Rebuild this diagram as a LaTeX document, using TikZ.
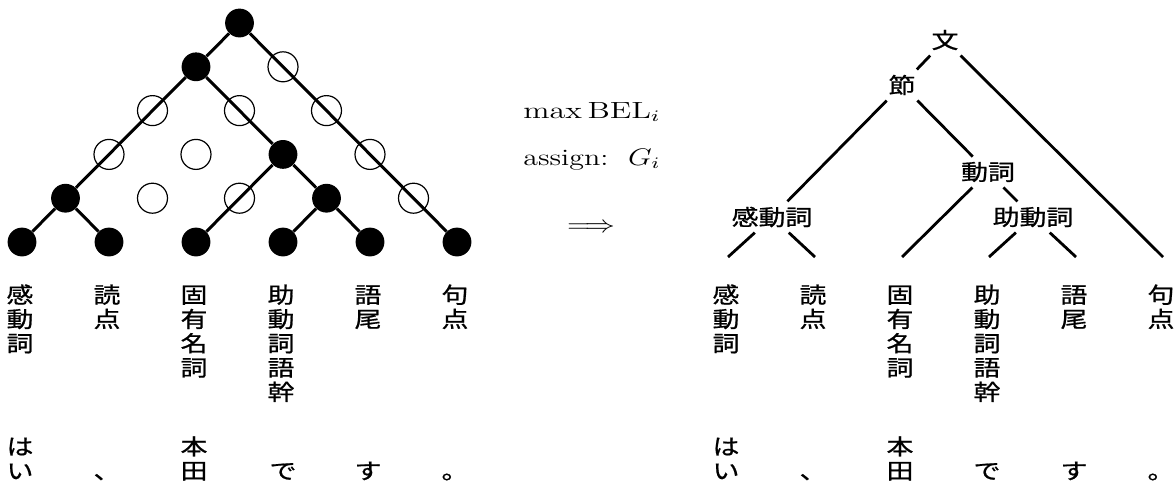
\documentclass[tikz,border=0pt]{standalone}
\usepackage{fontspec}
\usepackage{graphicx}
\newfontfamily\cjk[FakeBold=0.8]{Noto Sans CJK JP}
\newcommand\XS{1.22}
\newcommand\hs[1]{\scalebox{\XS}[1]{#1}}
\newcommand\vtopcol[1]{\vtop{\baselineskip=12.15pt\lineskiplimit=-\maxdimen\halign{\hfil\hs{##}\hfil\cr#1\crcr}}}
\newcommand\vbotcol[1]{\vbox{\baselineskip=12.15pt\lineskiplimit=-\maxdimen\halign{\hfil\hs{##}\hfil\cr#1\crcr}}}
\begin{document}
\begin{tikzpicture}[x=0.5pt,y=-0.5pt,
  bn/.style={circle,fill=black,draw=none,minimum size=14.4pt,inner sep=0pt},
  on/.style={circle,draw=black,line width=0.6pt,minimum size=15pt,inner sep=0pt},
  edge/.style={line width=1.5pt},
  redge/.style={line width=1.4pt},
  tlab/.style={font=\cjk\fontsize{11}{12}\selectfont,inner sep=2.5pt},
  col/.style={font=\cjk\fontsize{11}{12.15}\selectfont,inner sep=0pt,anchor=base},
  mtext/.style={font=\fontsize{11.7}{14}\selectfont,inner sep=0pt}]
\useasboundingbox (0,0) rectangle (1176,483);

% ---------- left tree: chosen (black) nodes ----------
\node[bn] (L0) at (22,242) {};
\node[bn] (L1) at (109,242) {};
\node[bn] (L2) at (196,242) {};
\node[bn] (L3) at (283,242) {};
\node[bn] (L4) at (370,242) {};
\node[bn] (L5) at (457,242) {};
\node[bn] (A01) at (65.5,198.2) {};
\node[bn] (A34) at (326.5,198.2) {};
\node[bn] (A24) at (283,154.4) {};
\node[bn] (A04) at (196,66.8) {};
\node[bn] (A05) at (239.5,23) {};

% ---------- left tree: candidate (open) nodes ----------
\node[on] (O12) at (152.5,198.2) {};
\node[on] (O23) at (239.5,198.2) {};
\node[on] (O45) at (413.5,198.2) {};
\node[on] (O02) at (109,154.4) {};
\node[on] (O13) at (196,154.4) {};
\node[on] (O35) at (370,154.4) {};
\node[on] (O03) at (152.5,110.6) {};
\node[on] (O14) at (239.5,110.6) {};
\node[on] (O25) at (326.5,110.6) {};
\node[on] (O15) at (283,66.8) {};

\draw[edge] (A05) -- (A04);
\draw[edge] (A05) -- (L5);
\draw[edge] (A04) -- (A01);
\draw[edge] (A04) -- (A24);
\draw[edge] (A01) -- (L0);
\draw[edge] (A01) -- (L1);
\draw[edge] (A24) -- (L2);
\draw[edge] (A24) -- (A34);
\draw[edge] (A34) -- (L3);
\draw[edge] (A34) -- (L4);

% ---------- middle ----------
\node[mtext,anchor=base west] (mx) at (523,118) {\resizebox{68.5pt}{\height}{$\max\mathrm{BEL}_i$}};
\node[mtext,anchor=base west] (as) at (523,165) {\resizebox{68.5pt}{\height}{assign:\ \ $G_i$}};
\node[mtext] (ar) at (591,228) {\resizebox{24pt}{\height}{$\Longrightarrow$}};

% ---------- right tree ----------
\node[tlab] (R05) at (945,40) {\hs{文}};
\node[tlab] (R04) at (902,85) {\hs{節}};
\node[tlab] (R24) at (988,172) {\hs{動詞}};
\node[tlab] (R01) at (772,217) {\hs{感動詞}};
\node[tlab] (R34) at (1033,217) {\hs{助動詞}};
\coordinate (RL0) at (728,257);
\coordinate (RL1) at (815,257);
\coordinate (RL2) at (902,257);
\coordinate (RL3) at (989,257);
\coordinate (RL4) at (1076,257);
\coordinate (RL5) at (1163,257);
\draw[redge] (R05) -- (R04);
\draw[redge] (R05) -- (RL5);
\draw[redge] (R04) -- (R01);
\draw[redge] (R04) -- (R24);
\draw[redge] (R01) -- (RL0);
\draw[redge] (R01) -- (RL1);
\draw[redge] (R24) -- (RL2);
\draw[redge] (R24) -- (R34);
\draw[redge] (R34) -- (RL3);
\draw[redge] (R34) -- (RL4);

% ---------- left labels ----------
\node[col] (lp0) at (20,303) {\vtopcol{感\cr 動\cr 詞}};
\node[col] (lp1) at (107,303) {\vtopcol{読\cr 点}};
\node[col] (lp2) at (194,303) {\vtopcol{固\cr 有\cr 名\cr 詞}};
\node[col] (lp3) at (281,303) {\vtopcol{助\cr 動\cr 詞\cr 語\cr 幹}};
\node[col] (lp4) at (368,303) {\vtopcol{語\cr 尾}};
\node[col] (lp5) at (455,303) {\vtopcol{句\cr 点}};
\node[col] (lw0) at (20,479) {\vbotcol{は\cr い}};
\node[col] (lw1) at (107,479) {\vbotcol{、}};
\node[col] (lw2) at (194,479) {\vbotcol{本\cr 田}};
\node[col] (lw3) at (283,479) {\vbotcol{で}};
\node[col] (lw4) at (368,479) {\vbotcol{す}};
\node[col] (lw5) at (455,479) {\vbotcol{。}};

% ---------- right labels ----------
\node[col] (rp0) at (726,303) {\vtopcol{感\cr 動\cr 詞}};
\node[col] (rp1) at (813,303) {\vtopcol{読\cr 点}};
\node[col] (rp2) at (900,303) {\vtopcol{固\cr 有\cr 名\cr 詞}};
\node[col] (rp3) at (987,303) {\vtopcol{助\cr 動\cr 詞\cr 語\cr 幹}};
\node[col] (rp4) at (1074,303) {\vtopcol{語\cr 尾}};
\node[col] (rp5) at (1161,303) {\vtopcol{句\cr 点}};
\node[col] (rw0) at (726,479) {\vbotcol{は\cr い}};
\node[col] (rw1) at (813,479) {\vbotcol{、}};
\node[col] (rw2) at (900,479) {\vbotcol{本\cr 田}};
\node[col] (rw3) at (987,479) {\vbotcol{で}};
\node[col] (rw4) at (1074,479) {\vbotcol{す}};
\node[col] (rw5) at (1161,479) {\vbotcol{。}};
\end{tikzpicture}
\end{document}
